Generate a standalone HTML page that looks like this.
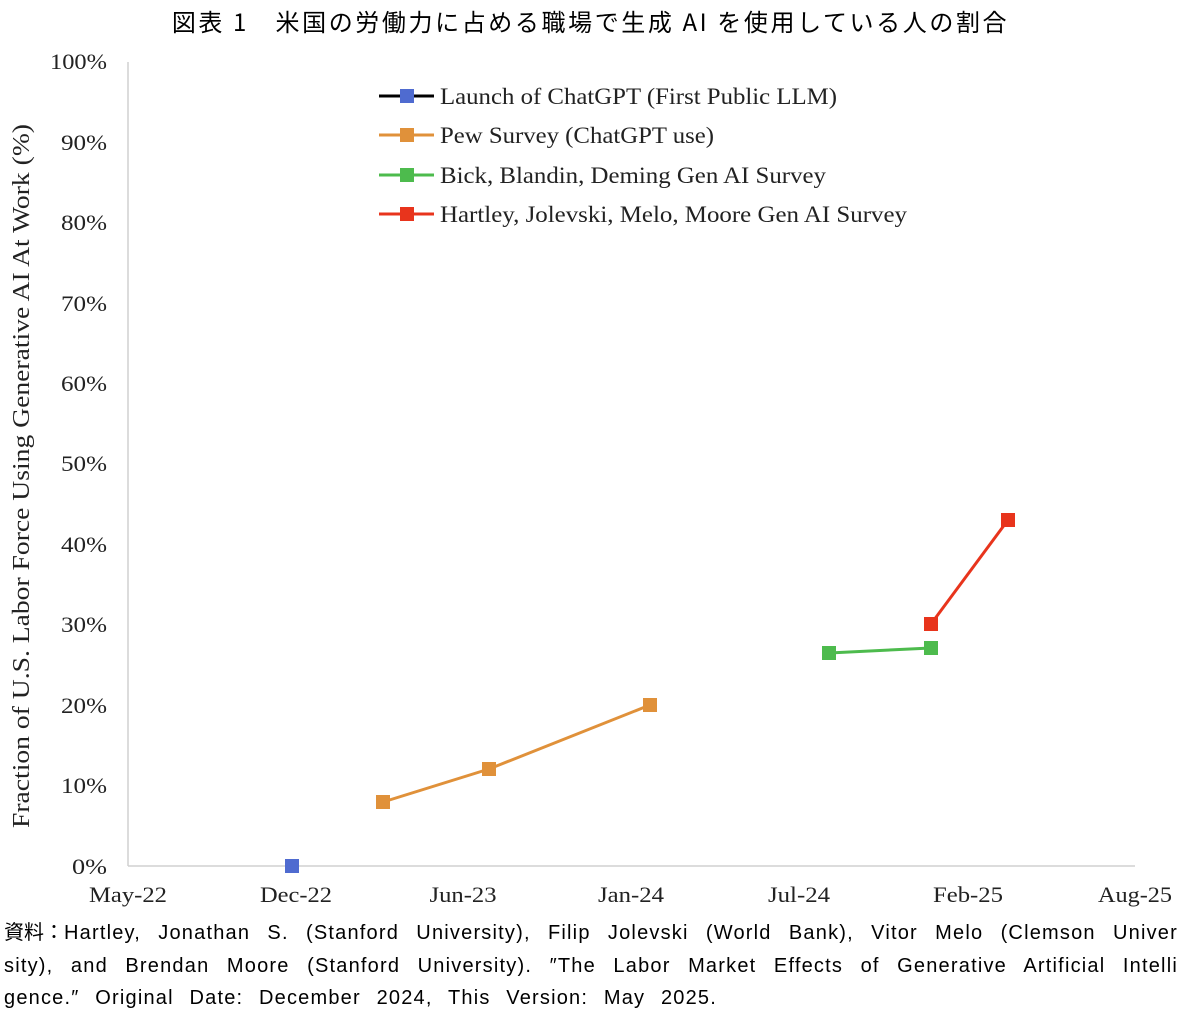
<!DOCTYPE html>
<html><head><meta charset="utf-8"><style>
body{margin:0;background:#fff;width:1181px;height:1012px;overflow:hidden}
.t{position:absolute;left:0;top:3px;width:1181px;text-align:center;font:24px "Noto Sans CJK JP",sans-serif;letter-spacing:2.6px;color:#000}
.f{position:absolute;left:4px;width:1174px;font:20px/24px "Liberation Sans","Noto Sans CJK JP",sans-serif;letter-spacing:1.2px;color:#000;white-space:nowrap}
.j{text-align:justify;text-align-last:justify}
.k{display:inline-block;letter-spacing:0}
</style></head><body>
<div class="t">図表 1　米国の労働力に占める職場で生成 AI を使用している人の割合</div>
<svg width="1181" height="920" style="position:absolute;left:0;top:0" font-family="Liberation Serif, serif" fill="#222">
<line x1="128" y1="62" x2="128" y2="866" stroke="#d0d0d0" stroke-width="1.5"/>
<line x1="128" y1="866" x2="1135" y2="866" stroke="#d0d0d0" stroke-width="1.5"/>
<g font-size="22" text-anchor="end">
<text x="107" y="874" textLength="35" lengthAdjust="spacingAndGlyphs">0%</text>
<text x="107" y="793" textLength="46" lengthAdjust="spacingAndGlyphs">10%</text>
<text x="107" y="713" textLength="46" lengthAdjust="spacingAndGlyphs">20%</text>
<text x="107" y="632" textLength="46" lengthAdjust="spacingAndGlyphs">30%</text>
<text x="107" y="552" textLength="46" lengthAdjust="spacingAndGlyphs">40%</text>
<text x="107" y="471" textLength="46" lengthAdjust="spacingAndGlyphs">50%</text>
<text x="107" y="391" textLength="46" lengthAdjust="spacingAndGlyphs">60%</text>
<text x="107" y="311" textLength="46" lengthAdjust="spacingAndGlyphs">70%</text>
<text x="107" y="230" textLength="46" lengthAdjust="spacingAndGlyphs">80%</text>
<text x="107" y="150" textLength="46" lengthAdjust="spacingAndGlyphs">90%</text>
<text x="107" y="69" textLength="57" lengthAdjust="spacingAndGlyphs">100%</text>
</g>
<g font-size="22" text-anchor="middle">
<text x="128" y="902" textLength="78" lengthAdjust="spacingAndGlyphs">May-22</text>
<text x="296" y="902" textLength="72" lengthAdjust="spacingAndGlyphs">Dec-22</text>
<text x="463" y="902" textLength="67" lengthAdjust="spacingAndGlyphs">Jun-23</text>
<text x="631" y="902" textLength="66" lengthAdjust="spacingAndGlyphs">Jan-24</text>
<text x="799" y="902" textLength="62" lengthAdjust="spacingAndGlyphs">Jul-24</text>
<text x="968" y="902" textLength="70" lengthAdjust="spacingAndGlyphs">Feb-25</text>
<text x="1135" y="902" textLength="74" lengthAdjust="spacingAndGlyphs">Aug-25</text>
</g>
<text transform="translate(29,476) rotate(-90)" font-size="24" text-anchor="middle" textLength="704" lengthAdjust="spacingAndGlyphs">Fraction of U.S. Labor Force Using Generative AI At Work (%)</text>
<polyline points="383,802 489,769 650,705" fill="none" stroke="#e0913a" stroke-width="3"/>
<polyline points="829,653 931,648" fill="none" stroke="#4dbb4d" stroke-width="3"/>
<polyline points="931,624 1008,520" fill="none" stroke="#e8341c" stroke-width="3"/>
<rect x="285" y="859" width="14" height="14" fill="#4f6bd0"/>
<g fill="#e0913a"><rect x="376" y="795" width="14" height="14"/><rect x="482" y="762" width="14" height="14"/><rect x="643" y="698" width="14" height="14"/></g>
<g fill="#4dbb4d"><rect x="822" y="646" width="14" height="14"/><rect x="924" y="641" width="14" height="14"/></g>
<g fill="#e8341c"><rect x="924" y="617" width="14" height="14"/><rect x="1001" y="513" width="14" height="14"/></g>
<g font-size="23">
<line x1="379" y1="96" x2="434" y2="96" stroke="#000" stroke-width="3"/><rect x="400" y="89" width="14" height="14" fill="#4f6bd0"/><text x="440" y="104" textLength="397" lengthAdjust="spacingAndGlyphs">Launch of ChatGPT (First Public LLM)</text>
<line x1="379" y1="135" x2="434" y2="135" stroke="#e0913a" stroke-width="3"/><rect x="400" y="128" width="14" height="14" fill="#e0913a"/><text x="440" y="143" textLength="274" lengthAdjust="spacingAndGlyphs">Pew Survey (ChatGPT use)</text>
<line x1="379" y1="175" x2="434" y2="175" stroke="#4dbb4d" stroke-width="3"/><rect x="400" y="168" width="14" height="14" fill="#4dbb4d"/><text x="440" y="183" textLength="386" lengthAdjust="spacingAndGlyphs">Bick, Blandin, Deming Gen AI Survey</text>
<line x1="379" y1="214" x2="434" y2="214" stroke="#e8341c" stroke-width="3"/><rect x="400" y="207" width="14" height="14" fill="#e8341c"/><text x="440" y="222" textLength="467" lengthAdjust="spacingAndGlyphs">Hartley, Jolevski, Melo, Moore Gen AI Survey</text>
</g>
</svg>
<div class="f j" style="top:921px"><span class="k">資料：</span>Hartley, Jonathan S. (Stanford University), Filip Jolevski (World Bank), Vitor Melo (Clemson Univer</div>
<div class="f j" style="top:954px">sity), and Brendan Moore (Stanford University). ″The Labor Market Effects of Generative Artificial Intelli</div>
<div class="f" style="top:986px;width:713px;text-align:justify;text-align-last:justify">gence.″ Original Date: December 2024, This Version: May 2025.</div>
</body></html>
